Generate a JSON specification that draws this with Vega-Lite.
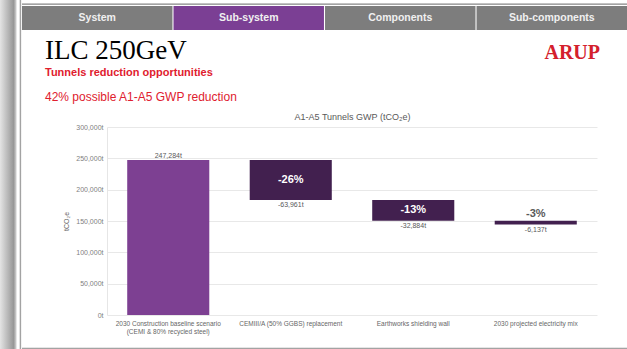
{
  "$schema": "https://vega.github.io/schema/vega-lite/v6.json",
  "padding": 0,
  "background": "#ffffff",
  "config": {
    "view": {"stroke": null},
    "font": "Liberation Sans",
    "title": {"offset": 0},
    "axisY": {"tickCount": 7}
  },
  "spacing": 0,
  "hconcat": [
    {
      "width": 22,
      "height": 349,
      "data": {"values": [{"part": "shadow"}]},
      "mark": {
        "type": "rect",
        "fill": {
          "gradient": "linear", "x1": 0, "y1": 0, "x2": 1, "y2": 0,
          "stops": [
            {"offset": 0, "color": "#e4e4e4"},
            {"offset": 0.62, "color": "#979797"},
            {"offset": 0.7, "color": "#bdbdbd"},
            {"offset": 0.78, "color": "#ffffff"},
            {"offset": 0.88, "color": "#ffffff"},
            {"offset": 0.9, "color": "#a3a3a3"},
            {"offset": 0.96, "color": "#a3a3a3"},
            {"offset": 0.98, "color": "#ffffff"},
            {"offset": 1, "color": "#ffffff"}
          ]
        }
      }
    },
    {
      "spacing": 7,
      "vconcat": [
        {
          "spacing": 0,
          "vconcat": [
            {
              "width": 605,
              "height": 6,
              "data": {"values": [{"part": "border"}]},
              "mark": {
                "type": "rect",
                "fill": {
                  "gradient": "linear", "x1": 0, "y1": 0, "x2": 0, "y2": 1,
                  "stops": [
                    {"offset": 0, "color": "#ffffff"},
                    {"offset": 0.55, "color": "#ffffff"},
                    {"offset": 0.6, "color": "#a3a3a3"},
                    {"offset": 0.75, "color": "#a3a3a3"},
                    {"offset": 0.8, "color": "#ffffff"},
                    {"offset": 1, "color": "#ffffff"}
                  ]
                }
              }
            },
            {
              "width": 605,
              "height": 24,
              "data": {"values": [
                {"tab": "System", "active": false},
                {"tab": "Sub-system", "active": true},
                {"tab": "Components", "active": false},
                {"tab": "Sub-components", "active": false}
              ]},
              "encoding": {
                "x": {"field": "tab", "type": "nominal", "sort": null, "axis": null,
                      "scale": {"paddingInner": 0.007, "paddingOuter": 0}}
              },
              "layer": [
                {
                  "mark": {"type": "rect"},
                  "encoding": {
                    "color": {"condition": {"test": "datum.active", "value": "#7B3F94"}, "value": "#7d7d7d"}
                  }
                },
                {
                  "mark": {"type": "text", "color": "#f0f0f0", "fontWeight": "bold", "fontSize": 10.5, "font": "Liberation Sans"},
                  "encoding": {"text": {"field": "tab"}}
                }
              ]
            }
          ]
        },
        {
          "spacing": 0,
          "hconcat": [
            {
              "width": 300,
              "height": 1,
              "data": {"values": []},
              "mark": "point",
              "title": {
                "text": "ILC 250GeV",
                "subtitle": "Tunnels reduction opportunities",
                "anchor": "start",
                "dx": 23,
                "font": "Liberation Serif",
                "fontSize": 27,
                "fontWeight": "normal",
                "color": "#000000",
                "subtitleFont": "Liberation Sans",
                "subtitleFontSize": 11,
                "subtitleFontWeight": "bold",
                "subtitleColor": "#E0202E",
                "subtitlePadding": 2
              }
            },
            {
              "width": 278,
              "height": 1,
              "data": {"values": []},
              "mark": "point",
              "title": {
                "text": "ARUP",
                "anchor": "end",
                "offset": 20,
                "font": "Liberation Serif",
                "fontSize": 20,
                "fontWeight": "bold",
                "color": "#D4202C"
              }
            }
          ]
        },
        {
          "spacing": 0,
          "hconcat": [
            {
              "width": 23,
              "height": 1,
              "data": {"values": []},
              "mark": "point"
            },
            {
              "width": 490,
              "height": 188,
              "title": {
                "text": "42% possible A1-A5 GWP reduction",
                "anchor": "start",
                "frame": "group",
                "dx": -62,
                "offset": 8,
                "font": "Liberation Sans",
                "fontSize": 12,
                "fontWeight": "normal",
                "color": "#E0202E"
              },
              "data": {"values": [
                {"step": "2030 Construction baseline scenario\n(CEMI & 80% recycled steel)", "kind": "baseline", "start": 0, "end": 247284, "change": 247284, "label": "247,284t", "pct": ""},
                {"step": "CEMIII/A (50% GGBS) replacement", "kind": "reduction", "start": 247284, "end": 183323, "change": -63961, "label": "-63,961t", "pct": "-26%"},
                {"step": "Earthworks shielding wall", "kind": "reduction", "start": 183323, "end": 150439, "change": -32884, "label": "-32,884t", "pct": "-13%"},
                {"step": "2030 projected electricity mix", "kind": "reduction", "start": 150439, "end": 144302, "change": -6137, "label": "-6,137t", "pct": "-3%"}
              ]},
              "resolve": {"axis": {"x": "independent"}},
              "layer": [
                {
                  "mark": {"type": "bar"},
                  "encoding": {
                    "x": {
                      "field": "step", "type": "nominal", "sort": null,
                      "scale": {"paddingInner": 0.33, "paddingOuter": 0.165},
                      "axis": {
                        "title": null, "labelAngle": 0, "ticks": false, "domain": false, "grid": false,
                        "labelFontSize": 6.5, "labelColor": "#666666", "labelPadding": 5,
                        "labelLineHeight": 8, "labelExpr": "split(datum.value, '\\n')"
                      }
                    },
                    "y": {
                      "field": "start", "type": "quantitative",
                      "scale": {"domain": [0, 300000], "nice": false},
                      "axis": {
                        "values": [0, 50000, 100000, 150000, 200000, 250000, 300000],
                        "tickCount": 7,
                        "labelExpr": "format(datum.value, ',') + 't'",
                        "labelFontSize": 7, "labelColor": "#808080", "labelPadding": 4,
                        "ticks": false, "domain": true, "domainColor": "#e6e6e6",
                        "gridColor": "#e8e8e8", "gridWidth": 1,
                        "title": "tCO₂e", "titleFontSize": 7, "titleFontWeight": "normal",
                        "titleColor": "#666666", "titlePadding": 6
                      }
                    },
                    "y2": {"field": "end"},
                    "color": {
                      "field": "kind", "type": "nominal", "legend": null,
                      "scale": {"domain": ["baseline", "reduction"], "range": ["#7D4092", "#42204F"]}
                    }
                  }
                },
                {
                  "transform": [{"filter": "datum.kind == 'baseline'"}],
                  "mark": {"type": "text", "baseline": "bottom", "dy": -1, "fontSize": 7, "color": "#595959"},
                  "encoding": {
                    "x": {"field": "step", "type": "nominal", "sort": null, "axis": null},
                    "y": {"field": "end", "type": "quantitative", "axis": {"values": [0, 50000, 100000, 150000, 200000, 250000, 300000], "tickCount": 7}},
                    "text": {"field": "label"}
                  }
                },
                {
                  "transform": [{"filter": "datum.kind == 'reduction'"}],
                  "mark": {"type": "text", "baseline": "top", "dy": 1, "fontSize": 7, "color": "#595959"},
                  "encoding": {
                    "x": {
                      "field": "step", "type": "nominal", "sort": null,
                      "axis": {
                        "orient": "top", "labels": false, "ticks": false, "domain": false, "grid": false,
                        "title": "A1-A5 Tunnels GWP (tCO₂e)", "titleFontSize": 9, "titleFontWeight": "normal",
                        "titleColor": "#595959", "titlePadding": 6
                      }
                    },
                    "y": {"field": "end", "type": "quantitative", "axis": {"values": [0, 50000, 100000, 150000, 200000, 250000, 300000], "tickCount": 7}},
                    "text": {"field": "label"}
                  }
                },
                {
                  "transform": [
                    {"filter": "datum.change < -10000"},
                    {"calculate": "(datum.start + datum.end) / 2", "as": "mid"}
                  ],
                  "mark": {"type": "text", "baseline": "middle", "fontSize": 11, "fontWeight": "bold", "color": "#ffffff"},
                  "encoding": {
                    "x": {"field": "step", "type": "nominal", "sort": null, "axis": null},
                    "y": {"field": "mid", "type": "quantitative", "axis": {"values": [0, 50000, 100000, 150000, 200000, 250000, 300000], "tickCount": 7}},
                    "text": {"field": "pct"}
                  }
                },
                {
                  "transform": [{"filter": "datum.kind == 'reduction' && datum.change >= -10000"}],
                  "mark": {"type": "text", "baseline": "bottom", "dy": -2, "fontSize": 11, "fontWeight": "bold", "color": "#595959"},
                  "encoding": {
                    "x": {"field": "step", "type": "nominal", "sort": null, "axis": null},
                    "y": {"field": "start", "type": "quantitative", "axis": {"values": [0, 50000, 100000, 150000, 200000, 250000, 300000], "tickCount": 7}},
                    "text": {"field": "pct"}
                  }
                }
              ]
            }
          ]
        },
        {
          "width": 605,
          "height": 9,
          "data": {"values": [{"part": "border"}]},
          "mark": {
            "type": "rect",
            "fill": {
              "gradient": "linear", "x1": 0, "y1": 0, "x2": 0, "y2": 1,
              "stops": [
                {"offset": 0, "color": "#ffffff"},
                {"offset": 0.6, "color": "#ffffff"},
                {"offset": 0.64, "color": "#a3a3a3"},
                {"offset": 0.74, "color": "#a3a3a3"},
                {"offset": 0.78, "color": "#ffffff"},
                {"offset": 1, "color": "#ffffff"}
              ]
            }
          }
        }
      ]
    }
  ]
}
